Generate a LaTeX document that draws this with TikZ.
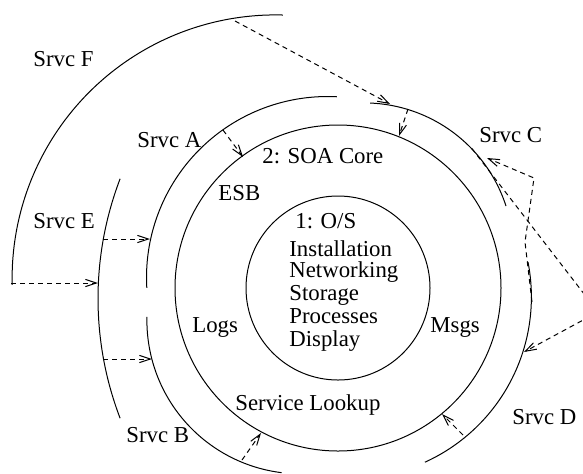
\documentclass[tikz,border=0pt]{standalone}
\usepackage{fontspec}
\setmainfont{Liberation Serif}
\usetikzlibrary{arrows.meta}
\begin{document}
\begin{tikzpicture}[x=0.5pt,y=-0.5pt,
  ring/.style={line width=0.5pt},
  link/.style={line width=0.5pt, dash pattern=on 2.5pt off 2pt,
    -{Straight Barb[length=5.5pt,width=3.6pt]}},
  lbl/.style={anchor=base west, inner sep=0pt,
    font=\fontsize{11.4pt}{11.4pt}\selectfont}]
\useasboundingbox (0,0) rectangle (583,473);
\clip (0,0) rectangle (583,473);

% layer 1 and layer 2: full circles
\draw[ring] (338,288) circle[radius=46pt];
\draw[ring] (338,288) circle[radius=81.5pt];

% service arcs (centre, radius, angular span)
\draw[ring] plot[domain=-183.3:-87, samples=90]
  ({327.5+181*cos(\x)},{277.5+181*sin(\x)});          % Srvc A
\draw[ring] plot[domain=-87.7:-18, samples=70]
  ({364.1+149.2*cos(\x)},{252.1+149.2*sin(\x)});      % Srvc C
\draw[ring] plot[domain=97:181.3, samples=80]
  ({300.3+153.4*cos(\x)},{320.4+153.4*sin(\x)});      % Srvc B
\draw[ring] plot[domain=-11.1:65.6, samples=80]
  ({350+181.4*cos(\x)},{297+181.4*sin(\x)});          % Srvc D
\draw[ring] plot[domain=159.1:200.9, samples=60]
  ({433.5+335.5*cos(\x)},{298.5+335.5*sin(\x)});      % Srvc E
\draw[ring] plot[domain=-181.4:-88.4, samples=120]
  ({275.6+263.5*cos(\x)},{278.4+263.5*sin(\x)});      % Srvc F

% connector end points on the arcs
\coordinate (fOut) at (235,21);    \coordinate (cIn) at (390,104);
\coordinate (cOut) at (408,109);   \coordinate (soaTop) at (399,136);
\coordinate (aOut) at (223,130);   \coordinate (soaTL) at (243,157);
\coordinate (fLow) at (11,283);    \coordinate (eIn) at (98,283);
\coordinate (eUp) at (103,239);    \coordinate (aIn) at (150,239);
\coordinate (eLow) at (103,359);   \coordinate (bIn) at (152,359);
\coordinate (bOut) at (242,460);   \coordinate (soaBL) at (261,433);
\coordinate (dOut) at (463,435);   \coordinate (soaBR) at (442,414);
\coordinate (cSide) at (471.7,148.3);
\coordinate (farR) at (598,312);   \coordinate (dIn) at (524,352);
\coordinate (dTop) at (532,302);   \coordinate (k1) at (525,242);
\coordinate (k2) at (534,178);     \coordinate (cBack) at (487,158);

% dependencies
\draw[link] (fOut) -- (cIn);
\draw[link] (cOut) -- (soaTop);
\draw[link] (aOut) -- (soaTL);
\draw[link] (fLow) -- (eIn);
\draw[link] (eUp) -- (aIn);
\draw[link] (eLow) -- (bIn);
\draw[link] (bOut) -- (soaBL);
\draw[link] (dOut) -- (soaBR);
\draw[link] (cSide) -- (farR) -- (dIn);
\draw[link] (dTop) -- (k1) -- (k2) -- (cBack);

% labels
\node[lbl] (tF) at (33,66) {Srvc F};
\node[lbl] (tA) at (137,147) {Srvc A};
\node[lbl] (tE) at (33,228) {Srvc E};
\node[lbl] (tC) at (479,142) {Srvc C};
\node[lbl] (tB) at (126,442) {Srvc B};
\node[lbl] (tD) at (512,424) {Srvc D};
\node[lbl] (tSOA) at (262,163) {2: SOA Core};
\node[lbl] (tESB) at (218,200) {ESB};
\node[lbl] (tLogs) at (192,332) {Logs};
\node[lbl] (tMsgs) at (430,332) {Msgs};
\node[lbl] (tLook) at (235,410) {Service Lookup};
\node[lbl] (tOS) at (295,228) {1: O/S};
\node[lbl] (os1) at (289,256) {Installation};
\node[lbl] (os2) at (289,277) {Networking};
\node[lbl] (os3) at (289,300) {Storage};
\node[lbl] (os4) at (289,323) {Processes};
\node[lbl] (os5) at (289,346) {Display};
\end{tikzpicture}
\end{document}
